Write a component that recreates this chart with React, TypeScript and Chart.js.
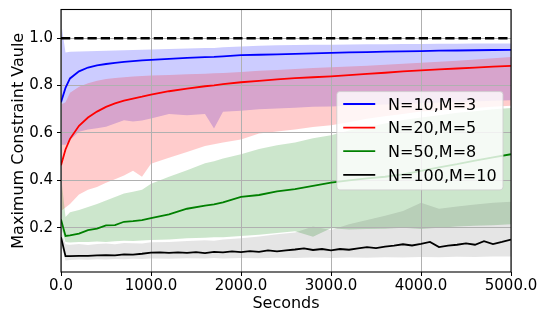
import React, { useEffect, useRef } from "react";
import { Chart, registerables } from "chart.js";

Chart.register(...registerables);

// ---- data -----------------------------------------------------------------
const T = [0, 50, 100, 200, 300, 400, 500, 600, 700, 800, 900, 1000, 1200, 1400, 1600, 1700, 1800, 2000, 2200, 2400, 2600, 2800, 3000, 3200, 3400, 3600, 3800, 4000, 4200, 4400, 4600, 4800, 5000];

const BLUE_MEAN = [0.73, 0.79, 0.83, 0.86, 0.876, 0.885, 0.891, 0.896, 0.9, 0.903, 0.906, 0.908, 0.913, 0.917, 0.92, 0.921, 0.923, 0.928, 0.93, 0.932, 0.934, 0.936, 0.938, 0.94, 0.941, 0.943, 0.944, 0.945, 0.947, 0.948, 0.949, 0.95, 0.951];
const BLUE_UP = [1.07, 0.94, 0.943, 0.944, 0.945, 0.946, 0.947, 0.948, 0.949, 0.95, 0.951, 0.952, 0.954, 0.956, 0.958, 0.959, 0.962, 0.965, 0.968, 0.97, 0.971, 0.972, 0.972, 0.973, 0.974, 0.974, 0.975, 0.975, 0.976, 0.976, 0.977, 0.977, 0.978];
const BLUE_LO = [0.55, 0.55, 0.57, 0.605, 0.615, 0.62, 0.626, 0.64, 0.654, 0.648, 0.652, 0.661, 0.68, 0.675, 0.68, 0.619, 0.689, 0.694, 0.7, 0.703, 0.706, 0.71, 0.712, 0.715, 0.718, 0.72, 0.722, 0.725, 0.728, 0.73, 0.733, 0.736, 0.738];

const RED_MEAN = [0.464, 0.53, 0.575, 0.63, 0.665, 0.69, 0.71, 0.725, 0.736, 0.745, 0.753, 0.762, 0.776, 0.787, 0.797, 0.801, 0.806, 0.814, 0.82, 0.826, 0.831, 0.835, 0.839, 0.844, 0.849, 0.854, 0.86, 0.864, 0.868, 0.872, 0.876, 0.88, 0.883];
const RED_UP = [0.72, 0.73, 0.77, 0.795, 0.81, 0.82, 0.828, 0.832, 0.835, 0.838, 0.84, 0.842, 0.845, 0.848, 0.85, 0.852, 0.853, 0.857, 0.862, 0.866, 0.87, 0.874, 0.877, 0.88, 0.884, 0.888, 0.892, 0.896, 0.9, 0.905, 0.91, 0.915, 0.92];
const RED_LO = [0.27, 0.285, 0.3, 0.34, 0.36, 0.372, 0.39, 0.405, 0.42, 0.44, 0.415, 0.47, 0.495, 0.52, 0.545, 0.552, 0.56, 0.572, 0.598, 0.606, 0.614, 0.625, 0.632, 0.645, 0.66, 0.67, 0.68, 0.69, 0.695, 0.7, 0.705, 0.71, 0.715];

const GREEN_MEAN = [0.235, 0.165, 0.168, 0.175, 0.19, 0.196, 0.21, 0.211, 0.225, 0.228, 0.232, 0.24, 0.256, 0.28, 0.293, 0.298, 0.307, 0.33, 0.338, 0.353, 0.363, 0.377, 0.39, 0.4, 0.408, 0.415, 0.425, 0.44, 0.455, 0.468, 0.483, 0.497, 0.51];
const GREEN_UP = [0.42, 0.245, 0.265, 0.275, 0.287, 0.3, 0.315, 0.33, 0.344, 0.352, 0.36, 0.385, 0.415, 0.443, 0.472, 0.48, 0.492, 0.51, 0.532, 0.548, 0.56, 0.578, 0.59, 0.61, 0.625, 0.64, 0.655, 0.665, 0.675, 0.685, 0.692, 0.7, 0.705];
const GREEN_LO = [0.2, 0.14, 0.138, 0.14, 0.14, 0.142, 0.14, 0.143, 0.145, 0.144, 0.146, 0.148, 0.15, 0.155, 0.158, 0.16, 0.16, 0.165, 0.17, 0.178, 0.185, 0.162, 0.198, 0.192, 0.195, 0.196, 0.2, 0.195, 0.2, 0.205, 0.208, 0.21, 0.215];

const BLACK_T = [0, 50, 100, 200, 300, 400, 500, 600, 700, 800, 900, 1000, 1100, 1200, 1300, 1400, 1500, 1600, 1700, 1800, 1900, 2000, 2100, 2200, 2300, 2400, 2500, 2600, 2700, 2800, 2900, 3000, 3100, 3200, 3300, 3400, 3500, 3600, 3700, 3800, 3900, 4000, 4100, 4200, 4300, 4400, 4500, 4600, 4700, 4800, 4900, 5000];
const BLACK_MEAN = [0.16, 0.08, 0.08, 0.081, 0.081, 0.083, 0.084, 0.083, 0.087, 0.086, 0.09, 0.095, 0.096, 0.094, 0.096, 0.094, 0.097, 0.093, 0.098, 0.096, 0.1, 0.097, 0.101, 0.098, 0.104, 0.1, 0.104, 0.108, 0.113, 0.106, 0.11, 0.104, 0.11, 0.107, 0.113, 0.118, 0.114, 0.12, 0.124, 0.13, 0.125, 0.132, 0.14, 0.118, 0.124, 0.128, 0.134, 0.128, 0.143, 0.131, 0.14, 0.15];
const BLACK_UP = [0.19, 0.13, 0.128, 0.131, 0.127, 0.131, 0.133, 0.13, 0.135, 0.134, 0.133, 0.139, 0.14, 0.144, 0.147, 0.145, 0.15, 0.155, 0.163, 0.172, 0.18, 0.205, 0.19, 0.215, 0.232, 0.25, 0.27, 0.305, 0.28, 0.29, 0.298, 0.305, 0.31];
const BLACK_LO = [0.13, 0.062, 0.064, 0.066, 0.065, 0.067, 0.066, 0.068, 0.067, 0.069, 0.068, 0.07, 0.069, 0.071, 0.07, 0.072, 0.07, 0.072, 0.071, 0.073, 0.072, 0.074, 0.072, 0.074, 0.073, 0.075, 0.074, 0.076, 0.075, 0.077, 0.076, 0.078, 0.078];

const THRESHOLD = 1.0;
const X_RANGE = [0, 5000];
const Y_RANGE = [0.013, 1.121];
const X_TICKS = [0, 1000, 2000, 3000, 4000, 5000];
const Y_TICKS = [0.2, 0.4, 0.6, 0.8, 1.0];
const LABELS = ["N=10,M=3", "N=20,M=5", "N=50,M=8", "N=100,M=10"];
const X_TITLE = "Seconds";
const Y_TITLE = "Maximum Constraint Vaule";

// ---- styles ---------------------------------------------------------------
const COLORS = ["#0000ff", "#ff0000", "#008000", "#000000"];
const FILLS = ["rgba(0,0,255,0.2)", "rgba(255,0,0,0.2)", "rgba(0,128,0,0.2)", "rgba(0,0,0,0.1)"];
const FONT = "'DejaVu Sans', sans-serif";

const pts = (xs: number[], ys: number[]) => xs.map((x, i) => ({ x, y: ys[i] }));

const lineDs = (label: string, data: any[], color: string) => ({
  label,
  data,
  borderColor: color,
  backgroundColor: color,
  borderWidth: 1.8,
  pointRadius: 0,
  tension: 0,
  fill: false,
});

const bandLo = (data: any[]) => ({
  label: "",
  data,
  borderWidth: 0,
  borderColor: "transparent",
  pointRadius: 0,
  fill: false,
});
const bandUp = (data: any[], color: string) => ({
  label: "",
  data,
  borderWidth: 0,
  borderColor: "transparent",
  backgroundColor: color,
  pointRadius: 0,
  fill: "-1",
});

const framePlugin = {
  id: "frame",
  afterDatasetsDraw(chart: any) {
    const { ctx, chartArea: a } = chart;
    ctx.save();
    ctx.strokeStyle = "#000";
    ctx.lineWidth = 1.1;
    ctx.strokeRect(a.left, a.top, a.right - a.left, a.bottom - a.top);
    ctx.restore();
  },
};

const legendPlugin = {
  id: "boxLegend",
  afterDraw(chart: any) {
    const { ctx, chartArea: a } = chart;
    const fs = 16;
    ctx.save();
    ctx.font = `${fs}px ${FONT}`;
    const tw = Math.max(...LABELS.map((l) => ctx.measureText(l).width));
    const pad = 0.4 * fs;
    const hl = 2 * fs;
    const hp = 0.8 * fs;
    const w = pad + hl + hp + tw + pad;
    const rowH = 23.6;
    const h = 98.3;
    const x0 = a.right - 0.5 * fs - w;
    const y0 = (a.top + a.bottom) / 2 - h / 2;
    ctx.beginPath();
    if (ctx.roundRect) ctx.roundRect(x0, y0, w, h, 3);
    else ctx.rect(x0, y0, w, h);
    ctx.fillStyle = "rgba(255,255,255,0.8)";
    ctx.fill();
    ctx.strokeStyle = "rgba(204,204,204,0.8)";
    ctx.lineWidth = 1;
    ctx.stroke();
    LABELS.forEach((lab, i) => {
      const cy = y0 + 12.4 + i * rowH;
      ctx.strokeStyle = COLORS[i];
      ctx.lineWidth = 1.8;
      ctx.beginPath();
      ctx.moveTo(x0 + pad, cy);
      ctx.lineTo(x0 + pad + hl, cy);
      ctx.stroke();
      ctx.fillStyle = "#000";
      ctx.textBaseline = "alphabetic";
      ctx.textAlign = "left";
      ctx.fillText(lab, x0 + pad + hl + hp, cy + (0.729 * fs) / 2);
    });
    ctx.restore();
  },
};

export default function App() {
  const ref = useRef<HTMLCanvasElement | null>(null);

  useEffect(() => {
    if (!ref.current) return;
    const datasets: any[] = [
      {
        label: "threshold",
        data: [
          { x: X_RANGE[0], y: THRESHOLD },
          { x: X_RANGE[1], y: THRESHOLD },
        ],
        borderColor: "#000",
        borderWidth: 2.5,
        borderDash: [9.25, 4],
        pointRadius: 0,
        fill: false,
      },
      lineDs(LABELS[0], pts(T, BLUE_MEAN), COLORS[0]),
      lineDs(LABELS[1], pts(T, RED_MEAN), COLORS[1]),
      lineDs(LABELS[2], pts(T, GREEN_MEAN), COLORS[2]),
      lineDs(LABELS[3], pts(BLACK_T, BLACK_MEAN), COLORS[3]),
      bandLo(pts(T, BLACK_LO)),
      bandUp(pts(T, BLACK_UP), FILLS[3]),
      bandLo(pts(T, GREEN_LO)),
      bandUp(pts(T, GREEN_UP), FILLS[2]),
      bandLo(pts(T, RED_LO)),
      bandUp(pts(T, RED_UP), FILLS[1]),
      bandLo(pts(T, BLUE_LO)),
      bandUp(pts(T, BLUE_UP), FILLS[0]),
    ];

    const chart = new Chart(ref.current, {
      type: "line",
      data: { datasets },
      options: {
        animation: false,
        responsive: false,
        maintainAspectRatio: false,
        devicePixelRatio: 1,
        layout: { padding: { top: 9.5, right: 29, bottom: 0, left: 0 } },
        plugins: {
          legend: { display: false },
          tooltip: { enabled: false },
          filler: { propagate: false, drawTime: "beforeDraw" },
        },
        scales: {
          x: {
            type: "linear",
            min: X_RANGE[0],
            max: X_RANGE[1],
            afterBuildTicks: (s: any) => {
              s.ticks = X_TICKS.map((v) => ({ value: v }));
            },
            afterFit: (s: any) => {
              s.height = 40;
              s.paddingLeft = 0;
              s.paddingRight = 0;
              s.paddingTop = 0;
              s.paddingBottom = 0;
            },
            ticks: {
              callback: (v: any) => Number(v).toFixed(1),
              font: { family: FONT, size: 15 },
              color: "#000",
              padding: 1,
              maxRotation: 0,
              minRotation: 0,
              autoSkip: false,
            },
            grid: { color: "#b0b0b0", lineWidth: 1, tickLength: 4, tickColor: "#000", drawTicks: true },
            border: { display: false },
            title: {
              display: true,
              text: X_TITLE,
              color: "#000",
              font: { family: FONT, size: 16, lineHeight: 1 },
              padding: { top: 0, bottom: 0 },
            },
          },
          y: {
            type: "linear",
            min: Y_RANGE[0],
            max: Y_RANGE[1],
            afterBuildTicks: (s: any) => {
              s.ticks = Y_TICKS.map((v) => ({ value: v }));
            },
            afterFit: (s: any) => {
              s.width = 61;
              s.paddingLeft = 0;
              s.paddingRight = 0;
              s.paddingTop = 0;
              s.paddingBottom = 0;
            },
            ticks: {
              callback: (v: any) => Number(v).toFixed(1),
              font: { family: FONT, size: 15 },
              color: "#000",
              padding: 4,
              autoSkip: false,
            },
            grid: { color: "#b0b0b0", lineWidth: 1, tickLength: 4, tickColor: "#000", drawTicks: true },
            border: { display: false },
            title: {
              display: true,
              text: Y_TITLE,
              color: "#000",
              font: { family: FONT, size: 16, lineHeight: 1 },
              padding: { top: 11, bottom: 0 },
            },
          },
        },
      } as any,
      plugins: [framePlugin, legendPlugin],
    });
    return () => chart.destroy();
  }, []);

  return (
    <div style={{ position: "fixed", left: 0, top: 0, width: 540, height: 312, background: "#fff" }}>
      <canvas ref={ref} width={540} height={312} style={{ display: "block", width: 540, height: 312 }} />
    </div>
  );
}
